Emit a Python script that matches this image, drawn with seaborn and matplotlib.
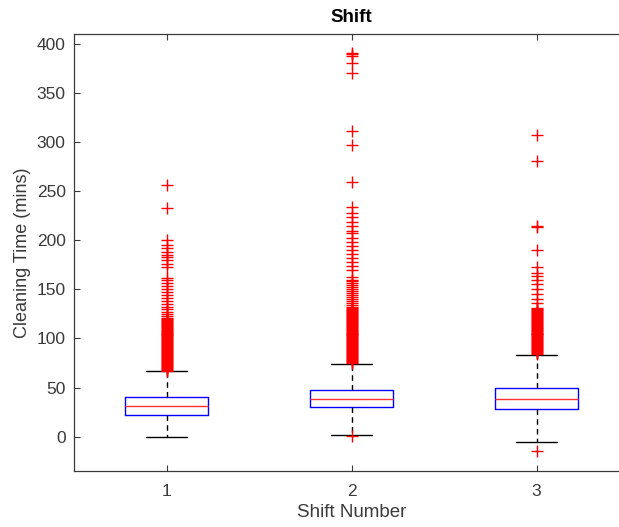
import numpy as np
import pandas as pd
import matplotlib
matplotlib.use("Agg")
import matplotlib.pyplot as plt
import seaborn as sns

# ---- data ----
shifts = ["1", "2", "3"]
whisker_low = [0, 2, -5]
q1 = [22, 30, 28]
median = [31, 38, 38]
q3 = [40, 47, 50]
whisker_high = [67, 74, 83]

outliers_1 = [67, 68, 69, 70, 71, 72, 73, 74, 75, 76, 77, 78, 79, 80, 81, 82, 83, 84,
              85, 86, 87, 88, 89, 90, 91, 92, 93, 94, 95, 96, 97, 98, 99, 100, 101, 102,
              103, 104, 105, 106, 107, 108, 109, 110, 111, 112, 113, 114, 115, 116, 117,
              118, 119, 120, 121, 123, 125, 127, 130, 132, 135, 138, 141, 144, 147, 150,
              153, 156, 160, 162, 173, 176, 180, 183, 185, 188, 192, 195, 200, 233, 256]
outliers_2 = [1, 75, 76, 77, 78, 79, 80, 81, 82, 83, 84, 85, 86, 87, 88, 89, 90, 91, 92,
              93, 94, 95, 96, 97, 98, 99, 100, 101, 102, 103, 104, 105, 106, 107, 108, 109,
              110, 111, 112, 113, 114, 115, 116, 117, 118, 119, 120, 121, 122, 123, 124,
              125, 126, 127, 128, 129, 130, 131, 132, 134, 136, 138, 140, 142, 144, 146,
              148, 150, 152, 154, 156, 158, 160, 163, 170, 174, 178, 182, 186, 190, 194,
              198, 202, 207, 209, 214, 219, 224, 228, 234, 259, 297, 311, 370, 380, 388,
              390, 391]
outliers_3 = [-15, 84, 85, 86, 87, 88, 89, 90, 91, 92, 93, 94, 95, 96, 97, 98, 99, 100,
              101, 102, 103, 104, 105, 106, 107, 108, 109, 110, 111, 112, 113, 114, 115,
              116, 117, 118, 119, 120, 121, 122, 123, 124, 125, 126, 127, 128, 129, 130,
              131, 136, 140, 145, 150, 155, 160, 164, 167, 173, 190, 213, 214, 281, 307]

# five-number table per shift (quartiles of 5 sorted values reproduce the stats)
rows = []
for s, a, b, c, d, e in zip(shifts, whisker_low, q1, median, q3, whisker_high):
    for v in (a, b, c, d, e):
        rows.append({"shift": s, "time": v})
box_df = pd.DataFrame(rows)

out_rows = []
for s, vals in zip(shifts, [outliers_1, outliers_2, outliers_3]):
    for v in vals:
        out_rows.append({"shift": s, "time": v})
out_df = pd.DataFrame(out_rows)

sns.set_theme(style="white")
plt.rcParams["font.family"] = ["Liberation Sans", "DejaVu Sans"]

fig = plt.figure(figsize=(6.19, 5.27), dpi=100)
ax = fig.add_axes([74 / 619, 1 - 471 / 527, 555 / 619, (471 - 34) / 527])

edge = "#3a3a3a"
sns.boxplot(data=box_df, x="shift", y="time", order=shifts, whis=np.inf,
            width=0.45, fill=False, color="blue", linewidth=1.0,
            boxprops={"color": "blue", "linewidth": 1.0},
            medianprops={"color": "#ff3030", "linewidth": 1.0},
            whiskerprops={"color": "black", "linestyle": (0, (4, 3)), "linewidth": 1.0},
            capprops={"color": "black", "linewidth": 1.0},
            ax=ax)
sns.stripplot(data=out_df, x="shift", y="time", order=shifts, jitter=False,
              marker="+", color="red", size=8.5, linewidth=1.0, ax=ax, zorder=3)

ax.set_xlim(-0.5, 2.5)
ax.set_ylim(-35, 410)
ax.set_yticks([0, 50, 100, 150, 200, 250, 300, 350, 400])
ax.set_title("Shift", fontsize=13.5, fontweight="bold", color="black", pad=9)
ax.set_xlabel("Shift Number", fontsize=13.5, color=edge, labelpad=4)
ax.set_ylabel("Cleaning Time (mins)", fontsize=13, color=edge, labelpad=4)
ax.tick_params(direction="in", length=4, width=0.8, colors=edge, labelsize=12.5,
               top=True, bottom=True, left=True, right=False)
ax.tick_params(axis="x", pad=9)
ax.tick_params(axis="y", pad=6)
for sp in ax.spines.values():
    sp.set_color(edge)
    sp.set_linewidth(0.9)

fig.savefig("out.png", dpi=100)
